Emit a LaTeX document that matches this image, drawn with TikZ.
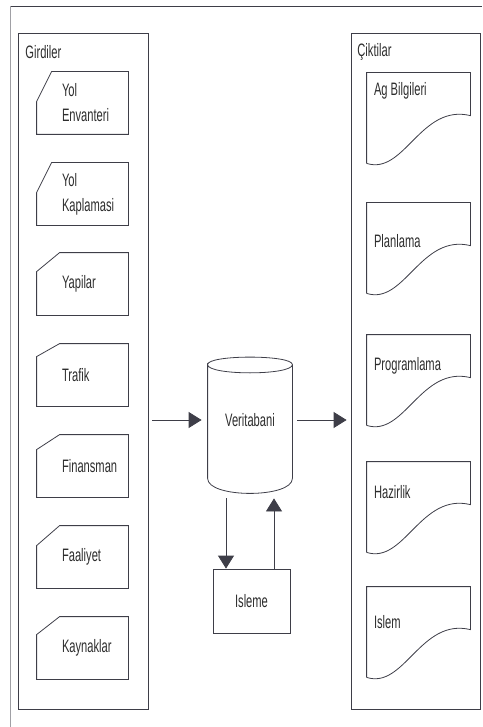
\documentclass[tikz,border=0pt]{standalone}
\usepackage{fontspec}
\setmainfont[FakeStretch=0.62]{Liberation Sans}
\usetikzlibrary{arrows.meta}
\definecolor{lineclr}{RGB}{62,62,72}
\definecolor{txtclr}{RGB}{45,45,45}
\definecolor{frameclr}{RGB}{160,160,165}

\begin{document}
\begin{tikzpicture}[x=1pt, y=-1pt, line width=0.8pt, color=lineclr,
    font=\fontsize{18}{25}\selectfont,
    >={Triangle[length=13pt, width=16pt]},
    panel/.style={draw, inner sep=0pt, text=txtclr},
    cardbox/.style={inner sep=0pt, minimum width=91pt, minimum height=62pt},
    docbox/.style={inner sep=0pt, minimum width=103pt, minimum height=90pt},
    lbl/.style={anchor=west, align=left, inner sep=0pt, text=txtclr}]
    \useasboundingbox (0,0) rectangle (482,727);

    % outer frame
    \draw (10,6) -- (482,6);
    \draw[frameclr] (10,6) -- (10,727);

    % left and right panels
    \node[panel, minimum width=130pt, minimum height=676pt] (inp) at (83,371) {};
    \node[panel, minimum width=129pt, minimum height=676pt] (out) at (415.5,371) {};
    \node[lbl] (inptitle) at (25,52) {Girdiler};
    \node[lbl] (outtitle) at (357,52) {Çiktilar};

    % input cards
    \foreach \y/\cw/\ch/\txt [count=\i] in {103/15/30/{Yol\\Envanteri}, 194/15/30/{Yol\\Kaplamasi},
        284/23/19/Yapilar, 375/23/13/Trafik, 466/23/15/Finansman, 557/23/20/Faaliyet, 648/23/18/Kaynaklar}
    {
        \node[cardbox] (card\i) at (82.5,\y) {};
        \draw ([xshift=\cw pt]card\i.north west) -- (card\i.north east) -- (card\i.south east)
            -- (card\i.south west) -- ([yshift=-\ch pt]card\i.north west) -- cycle;
        \node[lbl] (cardtxt\i) at ([xshift=25pt]card\i.west) {\txt};
    }

    % output documents
    \foreach \y/\ty/\txt [count=\i] in {73/18/Ag Bilgileri, 203/38/Planlama, 335/31/Programlama,
        462/30/Hazirlik, 587/35/Islem}
    {
        \node[docbox] (doc\i) at (418.5,\y+45) {};
        \draw (doc\i.south west) -- (doc\i.north west) -- (doc\i.north east)
            -- ([yshift=-43pt]doc\i.north east) .. controls +(-50,-12) and +(38,12) .. (doc\i.south west);
        \node[lbl] (doctxt\i) at ([xshift=7pt, yshift=-\ty pt]doc\i.north west) {\txt};
    }

    % database
    \node[inner sep=0pt, minimum width=84pt, minimum height=135pt] (db) at (250,425.5) {};
    \draw ([yshift=-7pt]db.north west) .. controls +(0,-10) and +(0,-10) .. ([yshift=-7pt]db.north east)
        .. controls +(0,11) and +(0,11) .. ([yshift=-7pt]db.north west)
        -- ([yshift=15pt]db.south west) .. controls +(0,20) and +(0,20) .. ([yshift=15pt]db.south east)
        -- ([yshift=-7pt]db.north east);
    \node[text=txtclr] (dbtxt) at ([yshift=5.5pt]db.center) {Veritabani};

    \node[panel, minimum width=77pt, minimum height=64pt] (isl) at (251.5,601) {Isleme};

    % arrows
    \coordinate (dn) at ([xshift=-24pt]db.south);
    \coordinate (up) at ([xshift=24pt]db.south);
    \draw[->, shorten <=4pt, shorten >=6pt] (inp.east |- dbtxt) -- (db.west |- dbtxt);
    \draw[->, shorten <=5pt, shorten >=4pt] (db.east |- dbtxt) -- (out.west |- dbtxt);
    \draw[->, shorten <=5pt] (dn) -- (dn |- isl.north);
    \draw[->, shorten >=5pt] (up |- isl.north) -- (up);
\end{tikzpicture}
\end{document}
